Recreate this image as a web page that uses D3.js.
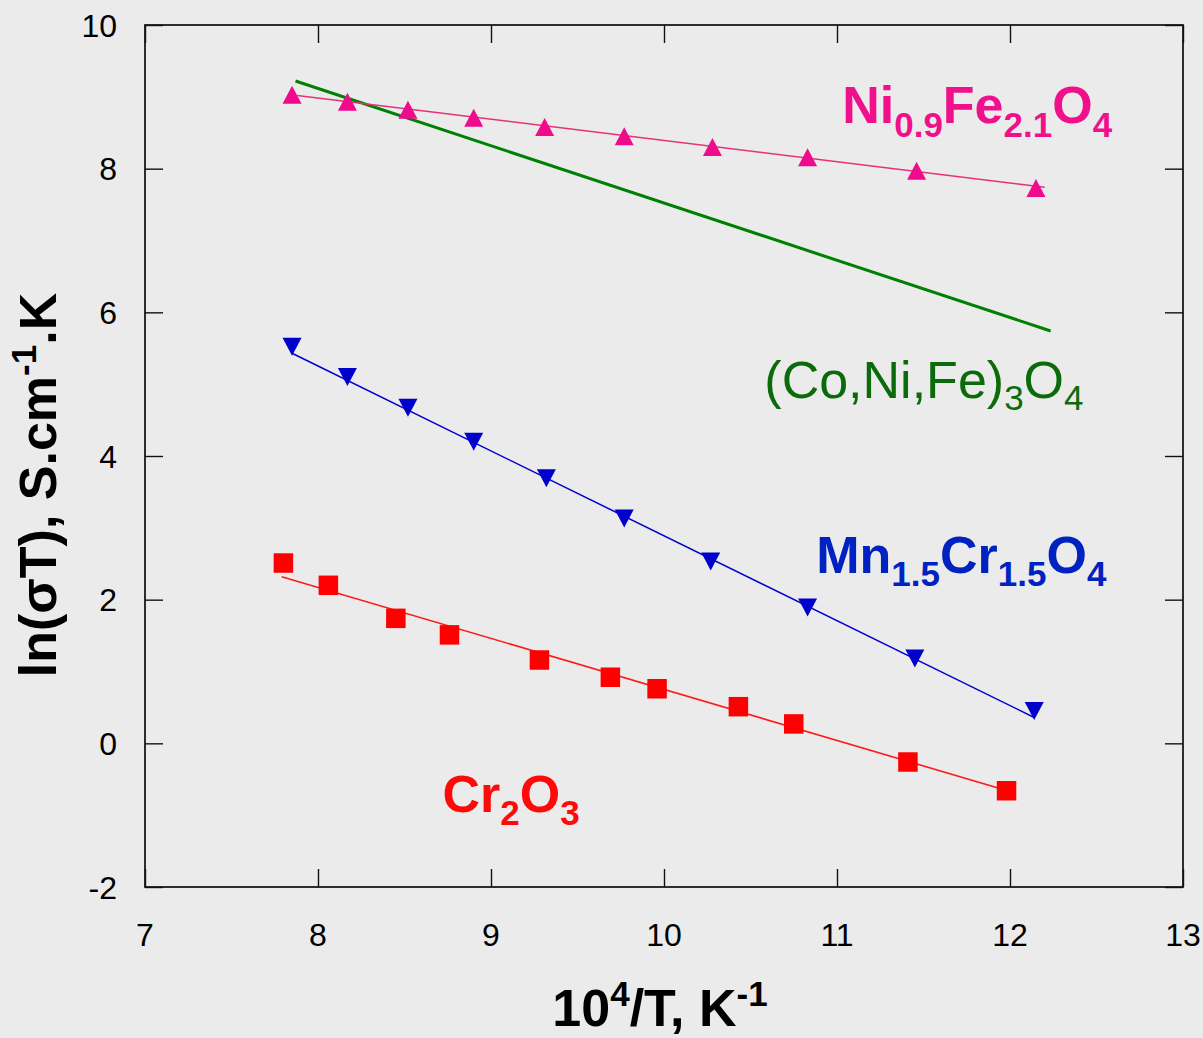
<!DOCTYPE html>
<html>
<head>
<meta charset="utf-8">
<script src="https://cdn.jsdelivr.net/npm/d3@7"></script>
<style>
  body { margin: 0; background: #ebebeb; }
  svg { display: block; font-family: "Liberation Sans", Arial, sans-serif; }
  .tick-label { font-size: 32px; fill: #000; }
  .axis-title { font-size: 52px; font-weight: bold; fill: #000; }
</style>
</head>
<body>
<div id="chart"></div>
<script>
// DATA (x = 10^4/T, y = ln(sigma T))
var xTicks = [7, 8, 9, 10, 11, 12, 13]
var yTicks = [-2, 0, 2, 4, 6, 8, 10]

// Ni0.9Fe2.1O4 (pink triangles)
var niX = [7.85, 8.17, 8.52, 8.90, 9.31, 9.77, 10.28, 10.83, 11.46, 12.15]
var niY = [9.03, 8.93, 8.82, 8.71, 8.58, 8.45, 8.30, 8.16, 7.97, 7.73]
var niFit = [[7.88, 9.02], [12.20, 7.74]]

// Mn1.5Cr1.5O4 (blue triangles down)
var mnX = [7.85, 8.17, 8.52, 8.90, 9.32, 9.77, 10.27, 10.83, 11.45, 12.14]
var mnY = [5.52, 5.10, 4.67, 4.20, 3.69, 3.13, 2.53, 1.89, 1.18, 0.45]
var mnFit = [[7.85, 5.43], [12.14, 0.36]]

// Cr2O3 (red squares)
var crX = [7.80, 8.06, 8.45, 8.76, 9.28, 9.69, 9.96, 10.43, 10.75, 11.41, 11.98]
var crY = [2.51, 2.20, 1.74, 1.51, 1.16, 0.92, 0.76, 0.51, 0.27, -0.26, -0.66]
var crFit = [[7.79, 2.32], [12.00, -0.67]]

// (Co,Ni,Fe)3O4 (line only)
var coFit = [[7.87, 9.22], [12.235, 5.74]]

//MARGIN CONVENTION
var WIDTH = 1203, HEIGHT = 1038
var PLOT = { LEFT: 145, RIGHT: 1183, TOP: 25, BOTTOM: 887 }
var TICK = 18
var MARK = { TRI_W: 19, TRI_H: 18, SQ: 19.5 }

const svg = d3.select("#chart").append("svg")
	.attr("width", WIDTH)
	.attr("height", HEIGHT)
svg.append("rect").attr("width", WIDTH).attr("height", HEIGHT).attr("fill", "#ebebeb")

//SCALES
const x = d3.scaleLinear().domain([7, 13]).range([PLOT.LEFT, PLOT.RIGHT])
const y = d3.scaleLinear().domain([-2, 10]).range([PLOT.BOTTOM, PLOT.TOP])

// FRAME + TICKS (mirrored on all sides, pointing inward)
const gFrame = svg.append("g")
gFrame.append("rect")
	.attr("x", PLOT.LEFT).attr("y", PLOT.TOP)
	.attr("width", PLOT.RIGHT - PLOT.LEFT).attr("height", PLOT.BOTTOM - PLOT.TOP)
	.attr("fill", "none").attr("stroke", "#1a1a1a").attr("stroke-width", 1.8)

gFrame.append("g").call(d3.axisTop(x).tickValues(xTicks).tickSize(TICK).tickFormat(""))
	.attr("transform", `translate(0,${PLOT.BOTTOM})`)
gFrame.append("g").call(d3.axisBottom(x).tickValues(xTicks).tickSize(TICK).tickFormat(""))
	.attr("transform", `translate(0,${PLOT.TOP})`)
gFrame.append("g").call(d3.axisRight(y).tickValues(yTicks).tickSize(TICK).tickFormat(""))
	.attr("transform", `translate(${PLOT.LEFT},0)`)
gFrame.append("g").call(d3.axisLeft(y).tickValues(yTicks).tickSize(TICK).tickFormat(""))
	.attr("transform", `translate(${PLOT.RIGHT},0)`)
gFrame.selectAll(".domain").remove()
gFrame.selectAll(".tick line").attr("stroke", "#111").attr("stroke-width", 1.4)

// TICK LABELS
svg.append("g").selectAll("text").data(xTicks).join("text")
	.attr("class", "tick-label")
	.attr("x", d => x(d)).attr("y", PLOT.BOTTOM + 59)
	.attr("text-anchor", "middle")
	.text(d => d)
svg.append("g").selectAll("text").data(yTicks).join("text")
	.attr("class", "tick-label")
	.attr("x", PLOT.LEFT - 28).attr("y", d => y(d) + 11.5)
	.attr("text-anchor", "end")
	.text(d => d)

// AXIS TITLES
const xTitle = svg.append("text").attr("class", "axis-title")
	.attr("x", 660).attr("y", 1026).attr("text-anchor", "middle")
xTitle.append("tspan").text("10")
xTitle.append("tspan").text("4").attr("dy", -20).style("font-size", "35px")
xTitle.append("tspan").text("/T, K").attr("dy", 20)
xTitle.append("tspan").text("-1").attr("dy", -20).style("font-size", "35px")

const yTitle = svg.append("text").attr("class", "axis-title")
	.attr("transform", "translate(56,485) rotate(-90)").attr("text-anchor", "middle")
yTitle.append("tspan").text("ln(σT), S.cm")
yTitle.append("tspan").text("-1").attr("dy", -20).style("font-size", "35px")
yTitle.append("tspan").text(".K").attr("dy", 20)

// FIT LINES
const line = d3.line().x(d => x(d[0])).y(d => y(d[1]))
function drawFit(pts, colour, width) {
	svg.append("path").attr("d", line(pts))
		.attr("fill", "none").attr("stroke", colour).attr("stroke-width", width)
}
drawFit(coFit, "#008000", 3)
drawFit(niFit, "#e8307a", 1.5)
drawFit(mnFit, "#0000d0", 1.5)
drawFit(crFit, "#ff1a1a", 1.6)

// MARKERS
const triPath = `M0,${-MARK.TRI_H/2}L${MARK.TRI_W/2},${MARK.TRI_H/2}L${-MARK.TRI_W/2},${MARK.TRI_H/2}Z`
const sqPath = `M${-MARK.SQ/2},${-MARK.SQ/2}h${MARK.SQ}v${MARK.SQ}h${-MARK.SQ}Z`
function drawMarkers(xs, ys, shape, colour, rot) {
	svg.append("g").selectAll("path").data(xs).join("path")
		.attr("d", shape)
		.attr("transform", (d, i) => `translate(${x(d)},${y(ys[i])}) rotate(${rot})`)
		.attr("fill", colour)
}
drawMarkers(niX, niY, triPath, "#f00a8c", 0)
drawMarkers(mnX, mnY, triPath, "#0000cc", 180)
drawMarkers(crX, crY, sqPath, "#ff0000", 0)

// SERIES LABELS
function drawLabel(parts, lx, ly, colour, bold, shift) {
	const t = svg.append("text")
		.attr("x", x(lx)).attr("y", y(ly))
		.attr("fill", colour)
		.style("font-size", "52px")
		.style("font-weight", bold ? "bold" : "normal")
	let down = false
	parts.forEach(p => {
		const isSub = p[1] == 1
		const ts = t.append("tspan").text(p[0])
		if (isSub && !down) { ts.attr("dy", shift); down = true }
		else if (!isSub && down) { ts.attr("dy", -shift); down = false }
		if (isSub) ts.style("font-size", "35px")
	})
}
drawLabel([["Ni", 0], ["0.9", 1], ["Fe", 0], ["2.1", 1], ["O", 0], ["4", 1]], 11.03, 8.64, "#f0108c", true, 14)
drawLabel([["(Co,Ni,Fe)", 0], ["3", 1], ["O", 0], ["4", 1]], 10.58, 4.81, "#0b6b0b", false, 12)
drawLabel([["Mn", 0], ["1.5", 1], ["Cr", 0], ["1.5", 1], ["O", 0], ["4", 1]], 10.88, 2.37, "#0022c0", true, 13)
drawLabel([["Cr", 0], ["2", 1], ["O", 0], ["3", 1]], 8.72, -0.96, "#ff0a0a", true, 13)
</script>
</body>
</html>
